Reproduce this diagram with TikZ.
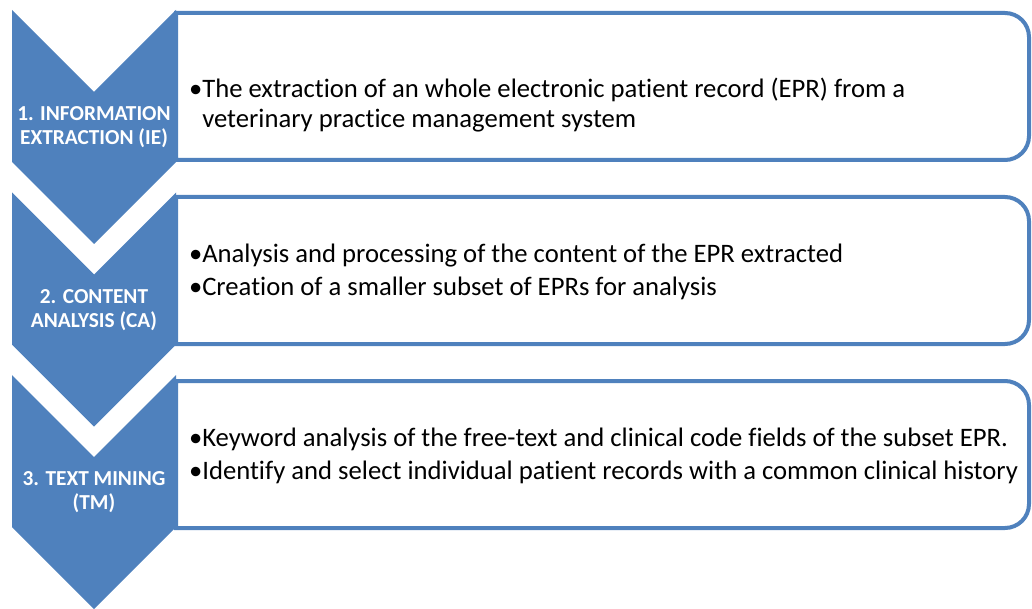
\documentclass[tikz,border=0pt]{standalone}
\usepackage{fontspec}
\setmainfont{Carlito}[RawFeature={-liga;-clig}]
\definecolor{acc}{HTML}{4F81BD}
\tikzset{
    x=0.75pt, y=0.75pt,
    every node/.style = {inner sep=0pt, outer sep=0pt},
    chev/.style = {fill=acc, draw=none},
    steplabel/.style = {
        text=white,
        font=\fontsize{16}{17.5}\selectfont\bfseries,
        align=center
    },
    boxline/.style = {draw=acc, line width=3pt, fill=white},
    boxtext/.style = {
        font=\fontsize{20}{23}\selectfont,
        align=left,
        anchor=west
    }
}

\begin{document}
\begin{tikzpicture}
  \useasboundingbox (0,0) rectangle (1032,608);

  %% boxes (rounded on the right side only)
  \draw [boxline] (176,595) -- (1005,595) arc[start angle=90, end angle=0, radius=18pt]
    -- (1029,472) arc[start angle=0, end angle=-90, radius=18pt] -- (176,448) -- cycle;
  \draw [boxline] (176,411) -- (1005,411) arc[start angle=90, end angle=0, radius=18pt]
    -- (1029,288) arc[start angle=0, end angle=-90, radius=18pt] -- (176,264) -- cycle;
  \draw [boxline] (176,227) -- (1005,227) arc[start angle=90, end angle=0, radius=18pt]
    -- (1029,104) arc[start angle=0, end angle=-90, radius=18pt] -- (176,80) -- cycle;

  %% chevrons
  \fill [chev] (12,598) -- (94,516) -- (176,598) -- (176,446) -- (94,364) -- (12,446) -- cycle;
  \fill [chev] (12,415.5) -- (94,333.5) -- (176,415.5) -- (176,263.5) -- (94,181.5) -- (12,263.5) -- cycle;
  \fill [chev] (12,233) -- (94,151) -- (176,233) -- (176,81) -- (94,-1) -- (12,81) -- cycle;

  %% step labels
  \node [steplabel] (IE) at (94,481) {1. INFORMATION\\EXTRACTION (IE)};
  \node [steplabel] (CA) at (94,298) {2. CONTENT\\ANALYSIS (CA)};
  \node [steplabel] (TM) at (94,116) {3. TEXT MINING\\(TM)};

  %% box texts
  \node [boxtext] (IEtext) at (189,503) {\textbullet The extraction of an whole electronic patient record (EPR) from a\\
    \phantom{\textbullet}veterinary practice management system};
  \node [boxtext] (CAtext) at (189,336) {\textbullet Analysis and processing of the content of the EPR extracted\\[2pt]
    \textbullet Creation of a smaller subset of EPRs for analysis};
  \node [boxtext] (TMtext) at (189,152) {\textbullet Keyword analysis of the free-text and clinical code fields of the subset EPR.\\[2pt]
    \textbullet Identify and select individual patient records with a common clinical history};

\end{tikzpicture}
\end{document}
